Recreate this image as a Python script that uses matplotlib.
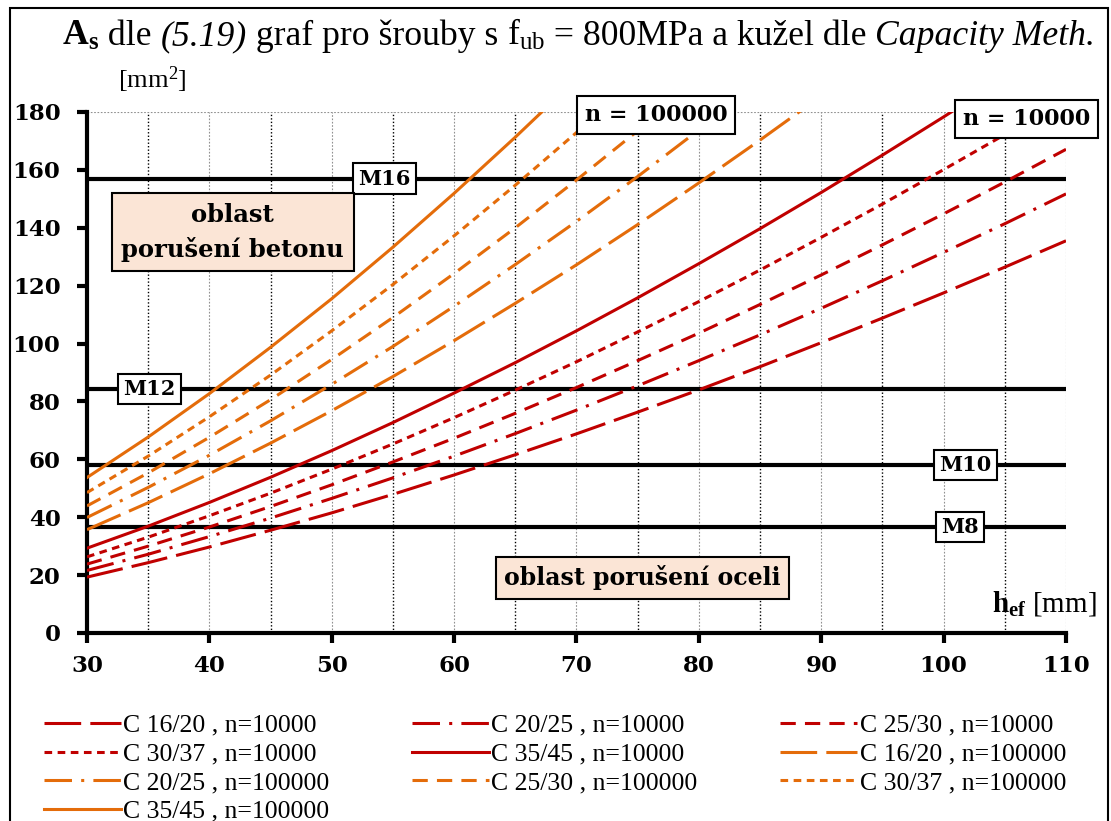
import matplotlib
matplotlib.use('Agg')
import matplotlib.pyplot as plt
from matplotlib.patches import Rectangle
import numpy as np

plt.rcParams['mathtext.fontset'] = 'custom'
plt.rcParams['mathtext.rm'] = 'Liberation Serif'
plt.rcParams['mathtext.it'] = 'Liberation Serif:italic'
plt.rcParams['mathtext.bf'] = 'Liberation Serif:bold'

# data (h_ef in mm, A_s in mm2)
h_ef = [30, 35, 40, 45, 50, 55, 60, 65, 70, 75, 80, 85, 90, 95, 100, 105, 110]

red_c16 = [19.3, 24.3, 29.7, 35.5, 41.5, 47.9, 54.6, 61.6, 68.8, 76.3, 84.0, 92.0, 100.3, 108.8, 117.5, 126.4, 135.5]
red_c20 = [21.6, 27.2, 33.3, 39.7, 46.5, 53.6, 61.1, 68.9, 77.0, 85.4, 94.1, 103.0, 112.2, 121.7, 131.5, 141.4, 151.7]
red_c25 = [23.8, 30.0, 36.6, 43.7, 51.2, 59.1, 67.3, 75.9, 84.8, 94.1, 103.6, 113.5, 123.7, 134.1, 144.8, 155.8, 167.1]
red_c30 = [26.3, 33.1, 40.5, 48.3, 56.6, 65.3, 74.4, 83.9, 93.7, 104.0, 114.5, 125.4, 136.7, 148.2, 160.1, 172.2, 184.7]
red_c35 = [29.3, 36.9, 45.1, 53.8, 63.0, 72.7, 82.9, 93.4, 104.4, 115.8, 127.6, 139.7, 152.2, 165.1, 178.3, 191.9, 205.7]

ora_c16 = [35.7, 45.0, 55.0, 65.6, 76.8, 88.6, 101.0, 113.9, 127.2, 141.1, 155.5, 170.3, 185.5]
ora_c20 = [39.9, 50.3, 61.4, 73.3, 85.9, 99.0, 112.9, 127.3, 142.2, 157.7, 173.8, 190.3]
ora_c25 = [43.9, 55.3, 67.6, 80.6, 94.5, 109.0, 124.2, 140.0, 156.5, 173.5, 191.2]
ora_c30 = [48.5, 61.1, 74.7, 89.1, 104.4, 120.4, 137.2, 154.7, 172.9, 191.7]
ora_c35 = [53.7, 67.7, 82.7, 98.7, 115.5, 133.3, 151.9, 171.3, 191.4]

bolts = ['M8', 'M10', 'M12', 'M16']
bolt_As = [36.6, 58.0, 84.3, 157.0]

red = '#C00000'
orange = '#E46C0A'

styles = {
    'C 16/20': (0, (12, 3)),
    'C 20/25': (0, (9, 3, 1, 3)),
    'C 25/30': (0, (5, 3)),
    'C 30/37': (0, (2.5, 1.8)),
    'C 35/45': '-',
}

fig = plt.figure(figsize=(11.11, 8.21), dpi=100)
ax = fig.add_axes([0.0783, 0.229, 0.8812, 0.6346])

lw = 2.2
series = [
    ('C 16/20', red_c16, red, 'n=10000'),
    ('C 20/25', red_c20, red, 'n=10000'),
    ('C 25/30', red_c25, red, 'n=10000'),
    ('C 30/37', red_c30, red, 'n=10000'),
    ('C 35/45', red_c35, red, 'n=10000'),
    ('C 16/20', ora_c16, orange, 'n=100000'),
    ('C 20/25', ora_c20, orange, 'n=100000'),
    ('C 25/30', ora_c25, orange, 'n=100000'),
    ('C 30/37', ora_c30, orange, 'n=100000'),
    ('C 35/45', ora_c35, orange, 'n=100000'),
]

# bolt lines
for name, a in zip(bolts, bolt_As):
    ax.axhline(a, color='black', lw=3, zorder=2)

lines = []
for name, vals, col, n in series:
    l, = ax.plot(h_ef[:len(vals)], vals, color=col, lw=lw, linestyle=styles[name],
                 label=name + ' , ' + n, zorder=3)
    lines.append(l)

ax.set_xlim(30, 110)
ax.set_ylim(0, 180)
ax.set_xticks(range(30, 111, 10))
ax.set_yticks(range(0, 181, 20))

# grid
for x in range(40, 111, 10):
    ax.axvline(x, color='#909090', lw=0.8, ls=(0, (1.5, 1.5)), zorder=1)
for x in range(35, 110, 10):
    ax.axvline(x, color='black', lw=1.0, ls=(0, (1, 1.5)), zorder=1)
ax.axhline(180, color='#909090', lw=0.8, ls=(0, (1.5, 1.5)), zorder=1)

for s in ['top', 'right']:
    ax.spines[s].set_visible(False)
ax.spines['left'].set_linewidth(3)
ax.spines['bottom'].set_linewidth(3)
ax.tick_params(axis='both', direction='out', width=3, length=7)
for lab in ax.get_xticklabels() + ax.get_yticklabels():
    lab.set_fontfamily('DejaVu Serif')
    lab.set_fontweight('bold')
    lab.set_fontsize(16.5)
ax.tick_params(axis='x', pad=9)
ax.tick_params(axis='y', pad=12)

boxw = dict(boxstyle='square,pad=0.25', fc='white', ec='black', lw=1.5)
boxp = dict(boxstyle='square,pad=0.35', fc='#FBE5D6', ec='black', lw=1.5)
bf = dict(fontfamily='DejaVu Serif', fontweight='bold')

ax.text(54.3, 157, 'M16', ha='center', va='center', fontsize=15, bbox=boxw, zorder=5, **bf)
ax.text(35.1, 84.3, 'M12', ha='center', va='center', fontsize=15, bbox=boxw, zorder=5, **bf)
ax.text(101.8, 58, 'M10', ha='center', va='center', fontsize=15, bbox=boxw, zorder=5, **bf)
ax.text(101.3, 36.6, 'M8', ha='center', va='center', fontsize=15, bbox=boxw, zorder=5, **bf)
ax.text(76.5, 179, 'n = 100000', ha='center', va='center', fontsize=16,
        bbox=dict(boxstyle='square,pad=0.35', fc='white', ec='black', lw=1.5), zorder=5, **bf)
ax.text(106.8, 177.5, 'n = 10000', ha='center', va='center', fontsize=16,
        bbox=dict(boxstyle='square,pad=0.35', fc='white', ec='black', lw=1.5), zorder=5, **bf)
ax.text(41.9, 138.5, 'oblast\nporušení betonu', ha='center', va='center', fontsize=17.5,
        linespacing=1.5, bbox=dict(boxstyle='square,pad=0.4', fc='#FBE5D6', ec='black', lw=1.5),
        zorder=5, **bf)
ax.text(75.4, 19, 'oblast porušení oceli', ha='center', va='center', fontsize=17,
        bbox=boxp, zorder=5, **bf)

# title assembled piece by piece
renderer = fig.canvas.get_renderer()
pieces = [
    (r'$\mathbf{A_s}$', 'normal'),
    (' dle ', 'normal'),
    ('(5.19)', 'italic'),
    (' graf pro šrouby s ', 'normal'),
    (r'f$_{\rm ub}$', 'normal'),
    (' = 800MPa a kužel dle ', 'normal'),
    ('Capacity Meth.', 'italic'),
]
xpos = 0.056
for txt, st in pieces:
    t = fig.text(xpos, 0.945, txt, fontsize=25.7, fontfamily='Liberation Serif',
                 fontstyle=st, va='baseline', ha='left')
    bb = t.get_window_extent(renderer)
    xpos += bb.width / fig.bbox.width

fig.text(0.106, 0.903, r'[mm$^2$]', fontsize=19, fontfamily='Liberation Serif', va='center')
fig.text(0.987, 0.265, r'$\mathbf{h}_{\mathbf{ef}}$ [mm]', fontsize=21,
         fontfamily='Liberation Serif', ha='right', va='center')

order = [0, 3, 6, 9, 1, 4, 7, 2, 5, 8]
fig.legend(handles=[lines[i] for i in order], loc='upper left', bbox_to_anchor=(0.03, 0.143), ncol=3,
           frameon=False, prop={'family': 'Liberation Serif', 'size': 18.5},
           handlelength=3.0, handletextpad=0.1, columnspacing=3.2,
           labelspacing=0.22, borderaxespad=0)

fig.patches.append(Rectangle((0.009, -0.01), 0.988, 1.0, transform=fig.transFigure,
                             fill=False, ec='black', lw=1.5))

fig.savefig('out.png', dpi=100)
